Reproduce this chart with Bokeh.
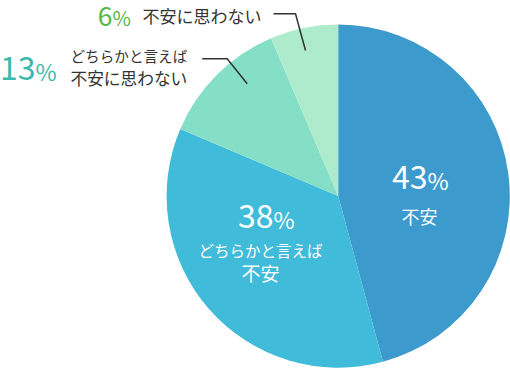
from bokeh.plotting import figure
from bokeh.models import Range1d, ColumnDataSource
from bokeh.core.properties import value
from bokeh.embed import file_html
from bokeh.resources import INLINE
import math

# ---- data ----
categories = ["不安", "どちらかと言えば不安", "どちらかと言えば不安に思わない", "不安に思わない"]
label_pct = ["43", "38", "13", "6"]
slice_share = [45.8, 35.6, 12.2, 6.4]   # drawn slice sizes
colors = ["#3d9acc", "#40bbd9", "#85dfc6", "#aeebcc"]

W, H = 510, 369
p = figure(width=W, height=H, output_backend="svg", toolbar_location=None,
           x_range=Range1d(0, W), y_range=Range1d(0, H),
           min_border=0, outline_line_color=None)
p.axis.visible = False
p.grid.visible = False
p.background_fill_color = "white"
p.border_fill_color = "white"

def Y(sy):
    return H - sy

cx, cy, r = 337.7, Y(195.6), 171.6
total = sum(slice_share)
starts, ends = [], []
acc = 0.0
for v in slice_share:
    starts.append(math.pi / 2 - acc / total * 2 * math.pi)
    acc += v
    ends.append(math.pi / 2 - acc / total * 2 * math.pi)
src = ColumnDataSource(dict(x=[cx] * 4, y=[cy] * 4, s=starts, e=ends, c=colors))
p.wedge(x="x", y="y", radius=r, start_angle="s", end_angle="e", direction="clock",
        fill_color="c", line_color=None, source=src)

FONT = value("Noto Sans CJK JP")

def txt(x, y, t, size, color, align="left"):
    # y is the wanted baseline (screen px); lift by the font's descent
    p.text(x=[x], y=[Y(y - 0.29 * size)], text=[t], text_font=FONT,
           text_font_size=f"{size}px", text_color=color, text_align=align,
           text_baseline="alphabetic")

# in-slice labels
txt(427, 186, label_pct[0], 32, "white", "right")
txt(427, 186, "%", 23, "white")
txt(419, 221, "不安", 18, "white", "center")

txt(273, 225, label_pct[1], 32, "white", "right")
txt(273, 225, "%", 23, "white")
txt(260, 254, "どちらかと言えば", 15.5, "white", "center")
txt(260, 278, "不安", 19, "white", "center")

# outside labels
green, teal, dark = "#55b848", "#3cb9ad", "#333333"
txt(112, 23, label_pct[3], 26.5, green, "right")
txt(112, 23, "%", 20, green)
txt(142, 19.5, "不安に思わない", 17, dark)

txt(35, 77, label_pct[2], 32, teal, "right")
txt(35, 77, "%", 23, teal)
txt(70, 59, "どちらかと言えば", 14.6, dark)
txt(70, 82, "不安に思わない", 16.7, dark)

# leader lines
p.line(x=[273, 295, 305], y=[Y(13.3), Y(13.3), Y(50)], line_color=dark, line_width=1.5)
p.line(x=[201.7, 226.7, 246.7], y=[Y(58.3), Y(58.3), Y(83.3)], line_color=dark, line_width=1.5)

open("out.html", "w").write(file_html(p, INLINE))
